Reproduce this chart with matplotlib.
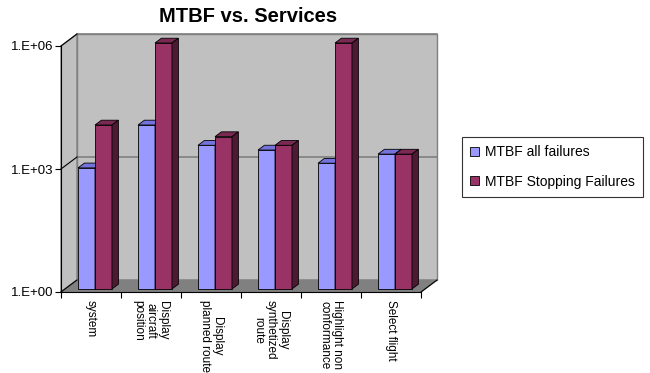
import numpy as np
import matplotlib.pyplot as plt
from matplotlib.patches import Polygon, Patch
from matplotlib.transforms import IdentityTransform

plt.rcParams["font.family"] = ["Liberation Sans", "DejaVu Sans"]

categories = [
    "system",
    "Display\naircraft\nposition",
    "Display\nplanned route",
    "Display\nsynthetized\nroute",
    "Highlight non\nconformance",
    "Select flight",
]
mtbf_all = [900, 10000, 3200, 2450, 1170, 1950]
mtbf_stopping = [10000, 1000000, 5200, 3200, 1000000, 1950]
series_names = ["MTBF all failures", "MTBF Stopping Failures"]
ytick_vals = [1, 1e3, 1e6]
ytick_labels = ["1.E+00", "1.E+03", "1.E+06"]

DPI = 100
DX, DY = 16, 12          # depth offset of the back wall, in pixels
F0, F1 = 0.25, 0.65      # depth range of the bars

face = {0: "#9999FF", 1: "#993366"}
top = {0: "#7373DB", 1: "#7A2952"}
side = {0: "#4C4C99", 1: "#4D1933"}

fig = plt.figure(figsize=(6.5, 3.73), dpi=DPI)
ax = fig.add_axes([61 / 650, 81 / 373, 360 / 650, 246 / 373])
ax.set_yscale("log")
ax.set_ylim(1, 1e6)
ax.set_xlim(0, 6)
ax.patch.set_visible(False)
ax.minorticks_off()


def proj(x, y, f):
    px, py = ax.transData.transform((x, y))
    return (px + DX * f, py + DY * f)


def poly(pts, fc, ec, lw=0.6, z=1):
    p = Polygon(pts, closed=True, facecolor=fc, edgecolor=ec, linewidth=lw,
                transform=IdentityTransform(), clip_on=False, zorder=z)
    ax.add_patch(p)


def line(p0, p1, color, lw=1.0, z=1.5):
    ax.plot([p0[0], p1[0]], [p0[1], p1[1]], color=color, lw=lw,
            transform=IdentityTransform(), clip_on=False, zorder=z)


# walls and floor
poly([proj(0, 1, 1), proj(6, 1, 1), proj(6, 1e6, 1), proj(0, 1e6, 1)], "#C0C0C0", "#808080", 1.0, 0.5)
poly([proj(0, 1, 0), proj(0, 1, 1), proj(0, 1e6, 1), proj(0, 1e6, 0)], "#C0C0C0", "#808080", 1.0, 0.5)
poly([proj(0, 1, 0), proj(6, 1, 0), proj(6, 1, 1), proj(0, 1, 1)], "#808080", "#808080", 1.0, 0.6)

# gridline and wall ticks
for v in ytick_vals[1:]:
    line(proj(0, v, 1), proj(6, v, 1), "#808080", 1.2, 0.7)
for v in ytick_vals:
    line(proj(0, v, 0), proj(0, v, 1), "black", 0.8, 0.8)
line(proj(6, 1, 0), proj(6, 1, 1), "black", 0.8, 0.8)

# bars
bw = 0.283
for i in range(len(categories)):
    for s, vals in enumerate([mtbf_all, mtbf_stopping]):
        x0 = i + 0.5 - bw + s * bw
        x1 = x0 + bw
        v = vals[i]
        z = 2 + i * 0.1 + s * 0.01
        poly([proj(x0, 1, F0), proj(x1, 1, F0), proj(x1, v, F0), proj(x0, v, F0)], face[s], "black", 0.6, z)
        poly([proj(x0, v, F0), proj(x1, v, F0), proj(x1, v, F1), proj(x0, v, F1)], top[s], "black", 0.6, z)
        poly([proj(x1, 1, F0), proj(x1, 1, F1), proj(x1, v, F1), proj(x1, v, F0)], side[s], "black", 0.6, z)

# axes
for sp in ["top", "right"]:
    ax.spines[sp].set_visible(False)
ax.spines["left"].set_linewidth(0.8)
ax.spines["bottom"].set_linewidth(0.8)
ax.spines["left"].set_zorder(3)
ax.spines["bottom"].set_zorder(3)
ax.set_yticks(ytick_vals)
ax.set_yticklabels(ytick_labels, fontsize=9.5)
ax.set_xticks(np.arange(0, 7))
ax.set_xticklabels([""] * 7)
ax.tick_params(axis="both", which="major", length=4, width=0.8, direction="out", pad=1.5)
ax.set_xticks(np.arange(len(categories)) + 0.5, categories, minor=True)
ax.tick_params(axis="x", which="minor", length=0, pad=6)
for t in ax.get_xticklabels(minor=True):
    t.set_rotation(-90)
    t.set_fontsize(8.5)
    t.set_va("top")
    t.set_ha("center")
    t.set_linespacing(1.05)

fig.text(248 / 650, 1 - 17 / 373, "MTBF vs. Services", ha="center", va="center",
         fontsize=14.5, fontweight="bold")

handles = [Patch(facecolor=face[0], edgecolor="black", linewidth=0.6),
           Patch(facecolor=face[1], edgecolor="black", linewidth=0.6)]
leg = fig.legend(handles, series_names, loc="upper left", bbox_to_anchor=(462 / 650, 1 - 137 / 373),
                 fontsize=10, frameon=True, fancybox=False, edgecolor="black",
                 handlelength=0.65, handleheight=0.65, handletextpad=0.4,
                 labelspacing=1.1, borderpad=0.6, borderaxespad=0)
leg.get_frame().set_linewidth(0.8)

fig.savefig("out.png", dpi=DPI)
